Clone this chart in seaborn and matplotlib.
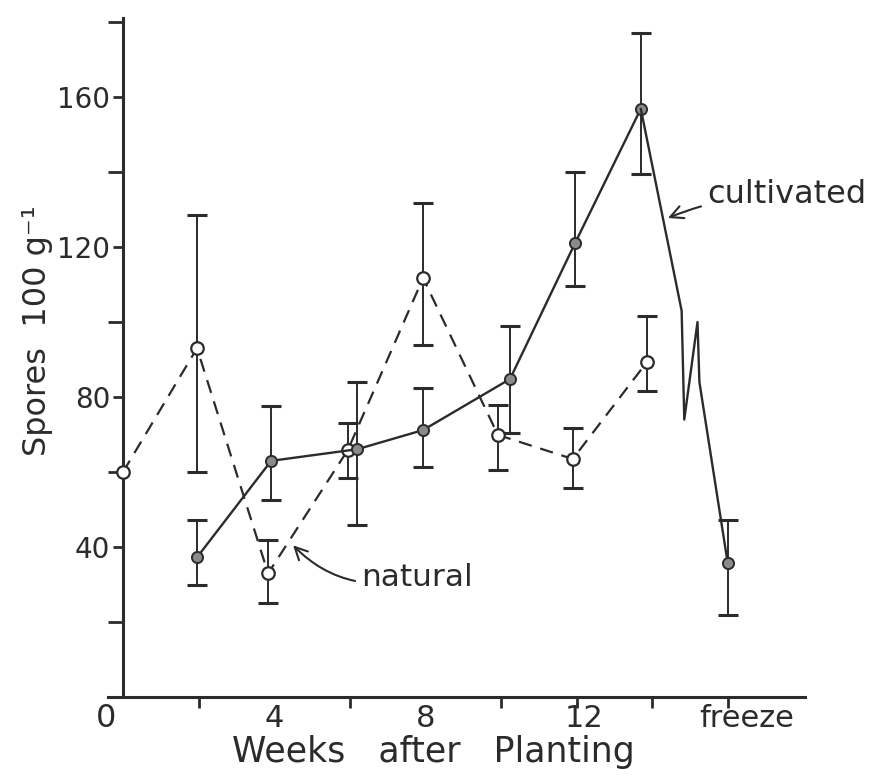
import matplotlib
matplotlib.use("Agg")
import matplotlib.pyplot as plt
from matplotlib.ticker import FixedLocator
import seaborn as sns
import pandas as pd

# values (spores per 100 g soil)
nat_weeks = [0, 1.96, 3.84, 5.95, 7.94, 9.92, 11.9, 13.86]
nat_spores = [60, 93, 33, 65.9, 111.7, 69.9, 63.5, 89.3]
nat_low = [60, 60, 25, 58.5, 93.9, 60.5, 55.7, 81.6]
nat_high = [60, 128.5, 42, 73, 131.7, 77.9, 71.7, 101.6]

cult_weeks = [1.96, 3.92, 6.2, 7.94, 10.24, 11.96, 13.7, 16.0]
cult_spores = [37.3, 63, 66.1, 71.2, 84.8, 121, 156.8, 35.7]
cult_low = [29.9, 52.5, 45.9, 61.4, 70.4, 109.6, 139.5, 21.9]
cult_high = [47.2, 77.6, 84, 82.4, 99, 140, 177, 47.2]

# hand drawn break in the cultivated line before the freeze sample
break_weeks = [13.7, 14.78, 14.85, 15.2, 15.25, 16.0]
break_spores = [156.8, 103, 74, 100, 84, 35.7]

ink = "#2b2b2b"

sns.set_style("ticks")
plt.rcParams["font.family"] = ["DejaVu Sans"]

nat = pd.DataFrame({"week": nat_weeks, "spores": nat_spores})
cult = pd.DataFrame({"week": cult_weeks[:-1], "spores": cult_spores[:-1]})
brk = pd.DataFrame({"week": break_weeks, "spores": break_spores})

fig = plt.figure(figsize=(8.72, 7.8), dpi=100)
ax = fig.add_axes([0.141, 0.106, 0.782, 0.871])

# natural: dashed line, open circles
sns.lineplot(data=nat, x="week", y="spores", ax=ax, color=ink, lw=1.6,
             dashes=False, linestyle=(0, (6, 4)), marker="o", markersize=9,
             markerfacecolor="white", markeredgecolor=ink, markeredgewidth=1.6,
             clip_on=False, zorder=3)
# cultivated: solid line
sns.lineplot(data=cult, x="week", y="spores", ax=ax, color=ink, lw=1.7,
             marker="o", markersize=8, markerfacecolor="#8a8a8a",
             markeredgecolor=ink, markeredgewidth=1.4, zorder=3)
sns.lineplot(data=brk, x="week", y="spores", ax=ax, color=ink, lw=1.7, zorder=3)
ax.plot(cult_weeks[-1:], cult_spores[-1:], "o", ms=8, mfc="#8a8a8a",
        mec=ink, mew=1.4, zorder=4)

# error bars
for xs, ys, lo, hi in [(nat_weeks[1:], nat_spores[1:], nat_low[1:], nat_high[1:]),
                       (cult_weeks, cult_spores, cult_low, cult_high)]:
    yerr = [[y - l for y, l in zip(ys, lo)], [h - y for y, h in zip(ys, hi)]]
    ax.errorbar(xs, ys, yerr=yerr, fmt="none", ecolor=ink, elinewidth=1.4,
                capsize=7, capthick=2.2, zorder=2)

ax.set_xlim(0, 18.04)
ax.set_ylim(0, 181)
sns.despine(ax=ax)
for s in ["left", "bottom"]:
    ax.spines[s].set_linewidth(2.2)
    ax.spines[s].set_color(ink)
ax.spines["bottom"].set_bounds(-0.4, 18.04)

# y ticks
ax.set_yticks([40, 80, 120, 160])
ax.yaxis.set_minor_locator(FixedLocator([20, 60, 100, 140, 180]))
ax.tick_params(axis="y", which="major", length=7, width=2, color=ink,
               labelsize=20, labelcolor=ink, pad=2)
ax.tick_params(axis="y", which="minor", length=11, width=2, color=ink)

# x ticks: marks every 2 weeks, labels at 4, 8, 12 and freeze
ax.xaxis.set_major_locator(FixedLocator([4, 8, 12.2, 16.5]))
ax.set_xticklabels(["4", "8", "12", "freeze"])
ax.xaxis.set_minor_locator(FixedLocator([2, 4, 6, 8, 10, 12, 14, 16]))
ax.tick_params(axis="x", which="major", length=0, labelsize=22,
               labelcolor=ink, pad=5)
ax.tick_params(axis="x", which="minor", length=8, width=2, color=ink)
ax.text(-0.45, -1.5, "0", ha="center", va="top", fontsize=23, color=ink,
        clip_on=False)

ax.set_xlabel("Weeks   after   Planting", fontsize=25, color=ink)
ax.xaxis.set_label_coords(0.455, -0.056)
ax.set_ylabel("Spores  100 g\u207b\u00b9", fontsize=23, color=ink)
ax.yaxis.set_label_coords(-0.102, 0.54)

# hand lettered labels with arrows
ax.annotate("natural", xy=(4.5, 40.5), xytext=(6.3, 32), fontsize=22.5,
            color=ink, va="center", ha="left",
            arrowprops=dict(arrowstyle="->", color=ink, lw=1.5,
                            connectionstyle="arc3,rad=-0.3",
                            shrinkA=2, shrinkB=0))
ax.annotate("cultivated", xy=(14.42, 127.7), xytext=(15.45, 134), fontsize=23,
            color=ink, va="center", ha="left",
            arrowprops=dict(arrowstyle="->", color=ink, lw=1.5,
                            connectionstyle="arc3,rad=0.1",
                            shrinkA=2, shrinkB=0))

fig.savefig("out.png", dpi=100, facecolor="white")
